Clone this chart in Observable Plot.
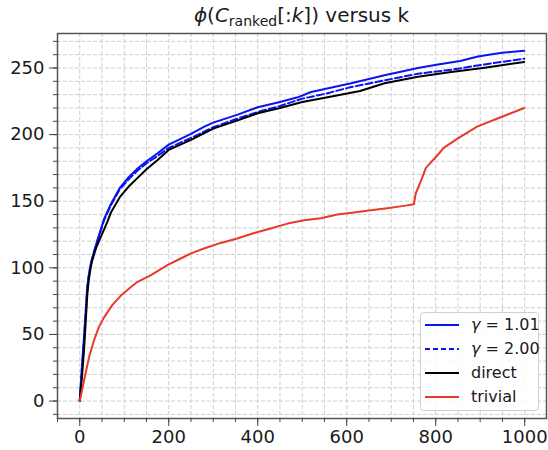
<!DOCTYPE html>
<html>
<head>
<meta charset="utf-8">
<script src="https://cdn.jsdelivr.net/npm/d3@7"></script>
<script src="https://cdn.jsdelivr.net/npm/@observablehq/plot@0.6"></script>
<style>
  html, body { margin: 0; padding: 0; background: #fff; }
  #wrap { position: relative; width: 548px; height: 450px; font-family: "DejaVu Sans", sans-serif; color: #1a1a1a; }
  #title { position: absolute; left: 57px; width: 489px; top: 4px; text-align: center; font-size: 20px; line-height: 22px; white-space: nowrap; }
  #title .sub { font-size: 70%; position: relative; top: 0.3em; }
  #chart { position: absolute; left: 0; top: 30px; }
  #legend { position: absolute; left: 420px; top: 312px; width: 119px; height: 99px; box-sizing: border-box;
            border: 1px solid #d0d0d0; border-radius: 4px; background: rgba(255,255,255,0.85); font-size: 16px; }
  .row { position: absolute; left: 0; height: 20px; width: 100%; white-space: nowrap; }
  .row svg { position: absolute; left: 4px; top: 4px; }
  .row span { position: absolute; left: 50px; top: 0; line-height: 20px; }
</style>
</head>
<body>
<div id="wrap">
  <div id="title"><i>ϕ</i>(<i>C</i><span class="sub">ranked</span>[:<i>k</i>]) versus k</div>
  <div id="chart"></div>
  <div id="legend"></div>
</div>
<script>
// ---- data ----
const seriesNames = ["γ = 1.01", "γ = 2.00", "direct", "trivial"];
const seriesColors = ["#0a14f0", "#0a14f0", "#000000", "#e8392b"];

const kG101 = [0, 5, 10, 17, 20, 23, 27, 32, 40, 55, 70, 90, 110, 130, 150, 175, 200, 250, 280, 300, 355, 400, 450, 490, 520, 610, 685, 760, 805, 855, 895, 945, 999];
const vG101 = [0, 26, 50, 86, 94, 100, 106, 112, 121, 137, 148, 160, 168, 174.5, 180, 186, 192.5, 200.5, 206, 209, 215, 220.5, 224.5, 228, 232, 238.5, 244.5, 250, 252.7, 255.2, 258.7, 261.2, 263];

const kG200 = [0, 5, 10, 17, 20, 23, 27, 32, 40, 55, 70, 90, 110, 130, 150, 175, 200, 250, 300, 350, 400, 450, 500, 550, 610, 685, 760, 835, 910, 999];
const vG200 = [0, 25, 48, 85, 93, 99, 105.5, 111.5, 120.5, 136, 147, 159, 166.5, 173, 178.5, 184, 190, 197.5, 205.5, 211.5, 217, 221.5, 227, 230.5, 235.7, 240.7, 245.7, 248.7, 252.7, 257];

const kDirect = [0, 5, 10, 17, 20, 23, 27, 32, 38, 47, 55, 62, 70, 90, 110, 130, 150, 175, 200, 250, 300, 355, 400, 450, 500, 557, 630, 685, 760, 835, 910, 999];
const vDirect = [0, 18, 40, 80, 90, 97, 104, 110, 116, 123, 129, 134.5, 141.5, 153, 161, 167.5, 174, 181, 188.5, 196, 204.5, 210.7, 216, 220, 224.5, 228, 232.7, 238.5, 243.5, 247, 250.2, 254.5];

const kTrivial = [0, 5, 10, 21, 32, 43, 55, 73, 92, 111, 130, 160, 197, 227, 249, 279, 317, 354, 392, 429, 467, 504, 542, 579, 616, 654, 691, 729, 751, 755, 766, 778, 804, 818, 849, 893, 946, 999];
const vTrivial = [0, 8, 16, 33, 45.5, 55.5, 63, 72, 79, 84.5, 89.5, 94.5, 102, 107, 110.7, 114.5, 118.7, 122, 126.2, 129.5, 133.2, 135.7, 137.2, 140, 141.5, 143.2, 144.7, 146.5, 147.7, 155.8, 164.5, 175, 184.5, 190, 197, 206, 213, 220];

const xMajorTicks = [0, 200, 400, 600, 800, 1000];
const yMajorTicks = [0, 50, 100, 150, 200, 250];

// ---- build table ----
const kArrays = [kG101, kG200, kDirect, kTrivial];
const vArrays = [vG101, vG200, vDirect, vTrivial];
const rows = [];
seriesNames.forEach((s, i) => kArrays[i].forEach((k, j) => rows.push({series: s, k, v: vArrays[i][j]})));
const of = s => rows.filter(d => d.series === s);

const xMinor = d3.range(-50, 1050, 50);
const yMinor = d3.range(-10, 276, 10);
const gridStyle = {stroke: "#cfcfcf", strokeOpacity: 1, strokeWidth: 1, strokeDasharray: "4,2"};
const axisColor = "#444";

const chart = Plot.plot({
  width: 548, height: 420,
  marginLeft: 57, marginRight: 2, marginTop: 3, marginBottom: 32,
  x: {domain: [-50, 1049], label: null},
  y: {domain: [-13.1, 275.9], label: null},
  style: {fontFamily: "DejaVu Sans", fontSize: "18px", color: "#1a1a1a", background: "#fff"},
  marks: [
    Plot.gridX(xMinor, gridStyle),
    Plot.gridY(yMinor, gridStyle),
    Plot.line(of(seriesNames[0]), {x: "k", y: "v", stroke: seriesColors[0], strokeWidth: 2}),
    Plot.line(of(seriesNames[1]), {x: "k", y: "v", stroke: seriesColors[1], strokeWidth: 2, strokeDasharray: "7,3"}),
    Plot.line(of(seriesNames[2]), {x: "k", y: "v", stroke: seriesColors[2], strokeWidth: 2}),
    Plot.line(of(seriesNames[3]), {x: "k", y: "v", stroke: seriesColors[3], strokeWidth: 2}),
    Plot.frame({stroke: "#555", strokeWidth: 1.5}),
    Plot.axisX(xMinor, {tickSize: 4, tickFormat: () => "", stroke: axisColor, label: null}),
    Plot.axisX(xMajorTicks, {tickSize: 8, tickPadding: 4, stroke: axisColor, fontSize: 18, tickFormat: d3.format("d"), label: null}),
    Plot.axisY(yMinor, {tickSize: 4, tickFormat: () => "", stroke: axisColor, label: null}),
    Plot.axisY(yMajorTicks, {tickSize: 8, tickPadding: 5, stroke: axisColor, fontSize: 18, tickFormat: d3.format("d"), label: null})
  ]
});
document.getElementById("chart").appendChild(chart);

// ---- legend ----
const legend = document.getElementById("legend");
const legendLabels = ["<i>γ</i> = 1.01", "<i>γ</i> = 2.00", "direct", "trivial"];
const dashes = [null, "5,3", null, null];
seriesNames.forEach((s, i) => {
  const row = document.createElement("div");
  row.className = "row";
  row.style.top = (2 + i * 24) + "px";
  row.innerHTML = `<svg width="36" height="12"><line x1="0" x2="34" y1="6" y2="6" stroke="${seriesColors[i]}" stroke-width="2" ${dashes[i] ? `stroke-dasharray="${dashes[i]}"` : ""}/></svg><span>${legendLabels[i]}</span>`;
  legend.appendChild(row);
});
</script>
</body>
</html>
